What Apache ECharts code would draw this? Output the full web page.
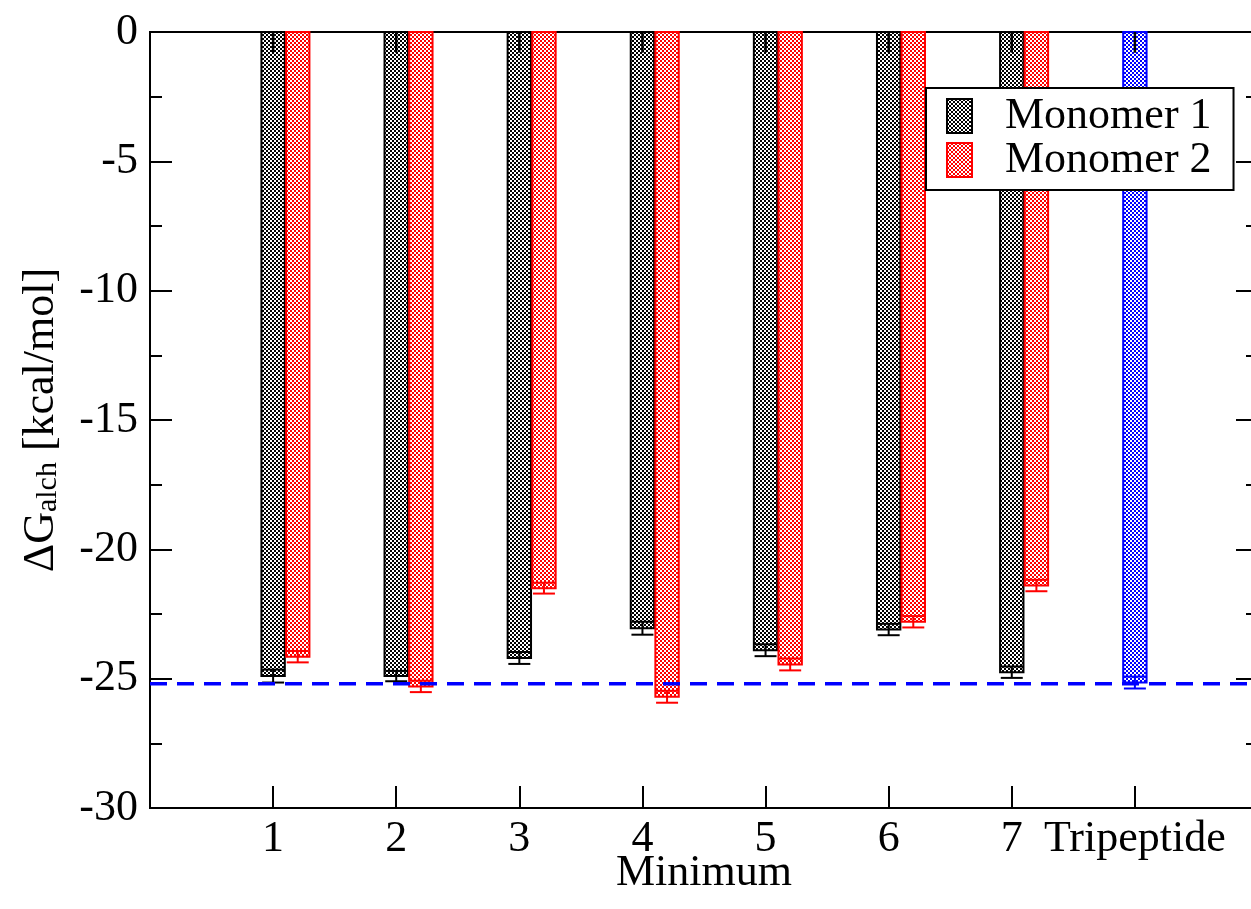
<!DOCTYPE html>
<html>
<head>
<meta charset="utf-8">
<script src="https://cdn.jsdelivr.net/npm/echarts@6/dist/echarts.min.js"></script>
<style>
  html, body { margin: 0; padding: 0; background: #fff; }
  #chart { width: 1251px; height: 909px; }
</style>
</head>
<body>
<div id="chart"></div>
<script>
// 数据
const categories = ['1', '2', '3', '4', '5', '6', '7', 'Tripeptide'];
const monomer1 = [-24.9, -24.9, -24.2, -23.05, -23.9, -23.1, -24.75];
const monomer1Err = [0.25, 0.2, 0.23, 0.25, 0.23, 0.22, 0.22];
const monomer2 = [-24.15, -25.3, -21.5, -25.7, -24.45, -22.8, -21.4];
const monomer2Err = [0.22, 0.22, 0.21, 0.23, 0.23, 0.22, 0.22];
const tripeptide = [-25.15];
const tripeptideErr = [0.23];
const referenceX = [0, 9];
const referenceY = [-25.2, -25.2];
const zeroSetErr = 0.8; // 顶部 0 处的误差线

const FONT = '"Liberation Serif", "DejaVu Serif", serif';
const barUnits = 0.19;

function checker(color) {
    const c = document.createElement('canvas');
    c.width = 4;
    c.height = 4;
    const g = c.getContext('2d');
    g.fillStyle = '#fff';
    g.fillRect(0, 0, 4, 4);
    g.fillStyle = color;
    g.fillRect(0, 0, 2, 2);
    g.fillRect(2, 2, 2, 2);
    return { image: c, repeat: 'repeat' };
}

const blackFill = checker('#000');
const redFill = checker('#ff0000');
const blueFill = checker('#0000ff');

// 柱子 + 误差线
function barRenderer(offset, stroke, fill, zeroMark) {
    return function (params, api) {
        const x = api.value(0) + offset;
        const v = api.value(1);
        const err = api.value(2);
        const top = api.coord([x, 0]);
        const bot = api.coord([x, v]);
        const w = api.size([barUnits, 0])[0];
        const hi = api.coord([x, v + err]);
        const lo = api.coord([x, v - err]);
        const cap = w * 0.47;
        const children = [
            {
                type: 'rect',
                shape: { x: top[0] - w / 2, y: top[1], width: w, height: bot[1] - top[1] },
                style: { fill: fill, stroke: stroke, lineWidth: 2 }
            },
            { type: 'line', shape: { x1: bot[0], y1: hi[1], x2: bot[0], y2: lo[1] }, style: { stroke: stroke, lineWidth: 2 } },
            { type: 'line', shape: { x1: bot[0] - cap, y1: hi[1], x2: bot[0] + cap, y2: hi[1] }, style: { stroke: stroke, lineWidth: 2 } },
            { type: 'line', shape: { x1: bot[0] - cap, y1: lo[1], x2: bot[0] + cap, y2: lo[1] }, style: { stroke: stroke, lineWidth: 2 } }
        ];
        if (zeroMark) {
            const zl = api.coord([x, -zeroSetErr]);
            children.push({ type: 'line', shape: { x1: top[0], y1: top[1], x2: top[0], y2: zl[1] }, style: { stroke: '#000', lineWidth: 2.5 } });
        }
        return { type: 'group', children: children };
    };
}

const chart = echarts.init(document.getElementById('chart'));

const option = {
    backgroundColor: '#fff',
    animation: false,
    grid: {
        left: 150,
        top: 32,
        width: 1108,
        height: 776,
        outerBoundsMode: 'none',
        containLabel: false,
        show: true,
        borderColor: '#000',
        borderWidth: 2,
        backgroundColor: 'transparent'
    },
    legend: {
        orient: 'vertical',
        left: 926,
        top: 88,
        backgroundColor: '#fff',
        borderColor: '#000',
        borderWidth: 2,
        borderRadius: 0,
        padding: [6, 22, 8, 20],
        itemWidth: 25,
        itemHeight: 34,
        itemGap: 0,
        selectedMode: false,
        textStyle: { fontFamily: FONT, fontSize: 44, color: '#000', padding: [0, 0, 0, 28] },
        data: [
            { name: 'Monomer 1', icon: 'rect', itemStyle: { color: blackFill, borderColor: '#000', borderWidth: 2 } },
            { name: 'Monomer 2', icon: 'rect', itemStyle: { color: redFill, borderColor: '#ff0000', borderWidth: 2 } }
        ]
    },
    xAxis: {
        type: 'value',
        min: 0,
        max: 9,
        interval: 1,
        name: 'Minimum',
        nameLocation: 'middle',
        nameGap: 43,
        nameMoveOverlap: false,
        nameTextStyle: { fontFamily: FONT, fontSize: 44, color: '#000' },
        axisLine: { show: true, onZero: false, lineStyle: { color: '#000', width: 2 } },
        axisTick: { show: true, inside: true, length: 22, lineStyle: { color: '#000', width: 2 } },
        splitLine: { show: false },
        axisLabel: {
            margin: 9,
            fontFamily: FONT,
            fontSize: 44,
            color: '#000',
            formatter: function (v) {
                return v >= 1 && v <= categories.length ? categories[v - 1] : '';
            }
        }
    },
    yAxis: [
        {
            type: 'value',
            min: -30,
            max: 0,
            interval: 5,
            name: '{a|ΔG}{s|alch}{a| [kcal/mol]}',
            nameLocation: 'middle',
            nameGap: 87,
            nameTextStyle: {
                fontFamily: FONT,
                color: '#000',
                rich: {
                    a: { fontFamily: FONT, fontSize: 44, lineHeight: 44, verticalAlign: 'top', color: '#000' },
                    s: { fontFamily: FONT, fontSize: 30, lineHeight: 30, padding: [20, 0, 0, 0], verticalAlign: 'bottom', color: '#000' }
                }
            },
            axisLine: { show: true, onZero: false, lineStyle: { color: '#000', width: 2 } },
            axisTick: { show: true, inside: true, length: 22, lineStyle: { color: '#000', width: 2 } },
            minorTick: { show: true, splitNumber: 2, length: 12, lineStyle: { color: '#000', width: 2 } },
            splitLine: { show: false },
            axisLabel: { margin: 12, fontFamily: FONT, fontSize: 44, color: '#000' }
        },
        {
            type: 'value',
            min: -30,
            max: 0,
            interval: 5,
            position: 'right',
            axisLine: { show: true, onZero: false, lineStyle: { color: '#000', width: 2 } },
            axisTick: { show: true, inside: true, length: 22, lineStyle: { color: '#000', width: 2 } },
            minorTick: { show: true, splitNumber: 2, length: 12, lineStyle: { color: '#000', width: 2 } },
            splitLine: { show: false },
            axisLabel: { show: false }
        }
    ],
    series: [
        {
            name: 'Monomer 1',
            type: 'custom',
            renderItem: barRenderer(0, '#000', blackFill, true),
            encode: { x: 0, y: 1 },
            itemStyle: { color: '#000' },
            data: monomer1.map((v, i) => [i + 1, v, monomer1Err[i]])
        },
        {
            name: 'Monomer 2',
            type: 'custom',
            renderItem: barRenderer(0.2, '#ff0000', redFill, false),
            encode: { x: 0, y: 1 },
            itemStyle: { color: '#ff0000' },
            data: monomer2.map((v, i) => [i + 1, v, monomer2Err[i]])
        },
        {
            name: 'Tripeptide',
            type: 'custom',
            renderItem: barRenderer(0, '#0000ff', blueFill, true),
            encode: { x: 0, y: 1 },
            itemStyle: { color: '#0000ff' },
            data: tripeptide.map((v, i) => [categories.length, v, tripeptideErr[i]])
        },
        {
            name: 'Reference',
            type: 'line',
            symbol: 'none',
            z: 10,
            lineStyle: { color: '#0000ff', width: 3.5, type: [17, 10] },
            data: referenceX.map((x, i) => [x, referenceY[i]])
        }
    ]
};

chart.setOption(option);
</script>
</body>
</html>
